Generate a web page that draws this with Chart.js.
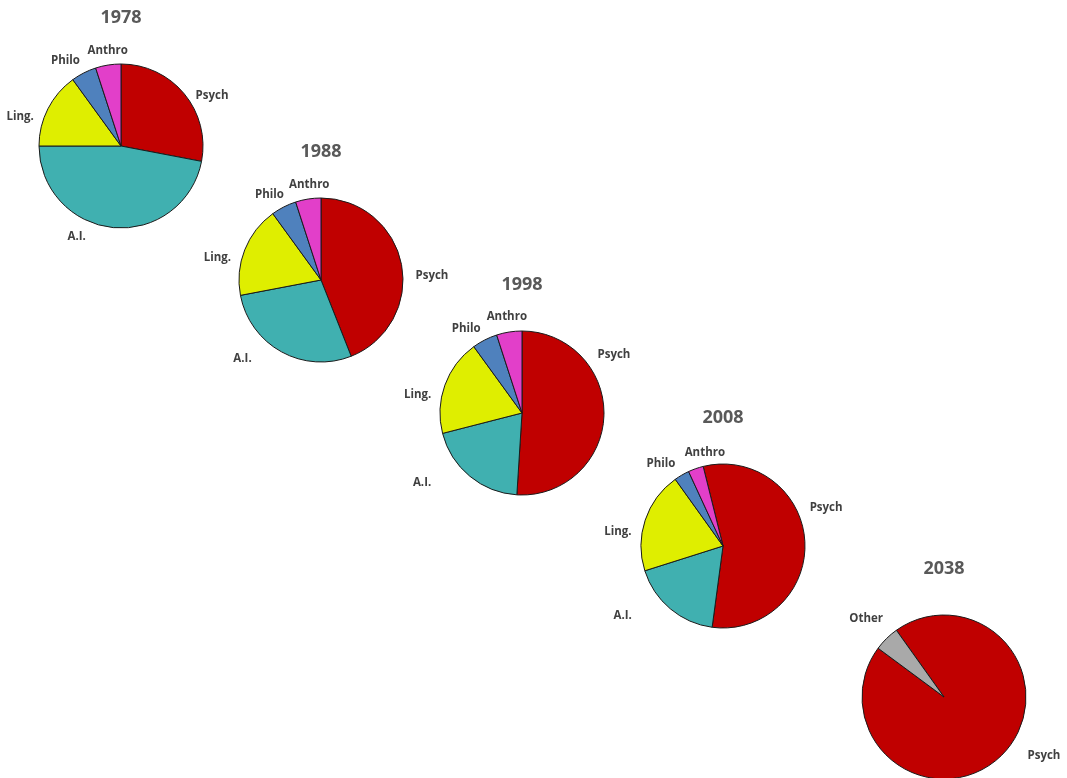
<!DOCTYPE html>
<html>
<head>
<meta charset="utf-8">
<script src="https://cdn.jsdelivr.net/npm/chart.js@4"></script>
<style>
    html, body { margin: 0; padding: 0; background: #fff; width: 1067px; height: 778px; overflow: hidden; }
    .pie { position: absolute; width: 300px; height: 300px; }
</style>
</head>
<body>
<div id="stage"></div>
<script>
// ---------------------------------------------------------------------------
// data
// ---------------------------------------------------------------------------
const years = ['1978', '1988', '1998', '2008', '2038'];

const fields = ['Psych', 'A.I.', 'Ling.', 'Philo', 'Anthro'];
const fields2038 = ['Psych', 'Other'];

const share1978 = [28, 47, 15, 5, 5];
const share1988 = [44, 28, 18, 5, 5];
const share1998 = [51, 20, 19, 5, 5];
const share2008 = [56, 18, 20, 3, 3];
const share2038 = [95, 5];

// ---------------------------------------------------------------------------
// layout / style
// ---------------------------------------------------------------------------
const fieldColors = {
    'Psych': '#c00000',
    'A.I.': '#40b0b0',
    'Ling.': '#dfee00',
    'Philo': '#4f81bd',
    'Anthro': '#e23fc9',
    'Other': '#a9a9a9'
};

// pie centres on the page, start angle, label spots (angle from top in deg, distance from centre)
const pies = [
    { year: years[0], labels: fields, values: share1978, cx: 121, cy: 146, rotation: 0,
      spots: [[61, 104], [206, 101], [286, 105], [327, 102], [352, 96]] },
    { year: years[1], labels: fields, values: share1988, cx: 321, cy: 279.5, rotation: 0,
      spots: [[88, 111], [225, 111], [282, 106], [329, 100], [353, 96]] },
    { year: years[2], labels: fields, values: share1998, cx: 522, cy: 412.5, rotation: 0,
      spots: [[57.5, 109], [235, 122], [280, 106], [326.5, 101], [351, 97]] },
    { year: years[3], labels: fields, values: share2008, cx: 722.5, cy: 545.5, rotation: -14,
      spots: [[69.6, 110], [235.3, 122], [277.8, 106], [323, 103], [349, 95]] },
    { year: years[4], labels: fields2038, values: share2038, cx: 944.3, cy: 696.7, rotation: -35.5,
      spots: [[120.5, 116], [315, 110]] }
];

const SIZE = 300;
const RADIUS = 82.5;

// titles + slice labels, placed around the arc centre
const pieTextPlugin = {
    id: 'pieText',
    afterDraw(chart, args, opts) {
        const arc = chart.getDatasetMeta(0).data[0];
        if (!arc) return;
        const ctx = chart.ctx;
        const cx = arc.x, cy = arc.y;
        ctx.save();
        ctx.textAlign = 'center';
        ctx.textBaseline = 'middle';

        ctx.fillStyle = '#595959';
        ctx.font = 'bold 18px "Open Sans", "Liberation Sans", sans-serif';
        ctx.fillText(opts.title, cx, cy - 128);

        ctx.fillStyle = '#404040';
        ctx.font = 'bold 11.5px "Open Sans", "Liberation Sans", sans-serif';
        chart.data.labels.forEach((lab, i) => {
            const [deg, dist] = opts.spots[i];
            const a = deg * Math.PI / 180;
            ctx.fillText(lab, cx + dist * Math.sin(a), cy - dist * Math.cos(a));
        });
        ctx.restore();
    }
};

const stage = document.getElementById('stage');

pies.forEach(p => {
    const canvas = document.createElement('canvas');
    canvas.className = 'pie';
    canvas.width = SIZE;
    canvas.height = SIZE;
    canvas.style.left = (p.cx - SIZE / 2) + 'px';
    canvas.style.top = (p.cy - SIZE / 2) + 'px';
    stage.appendChild(canvas);

    const pad = SIZE / 2 - RADIUS;

    new Chart(canvas.getContext('2d'), {
        type: 'pie',
        data: {
            labels: p.labels,
            datasets: [{
                data: p.values,
                backgroundColor: p.labels.map(l => fieldColors[l]),
                borderColor: '#1a1a1a',
                borderWidth: 1
            }]
        },
        options: {
            responsive: false,
            animation: false,
            rotation: p.rotation,
            layout: { padding: pad },
            plugins: {
                legend: { display: false },
                tooltip: { enabled: false },
                pieText: { title: p.year, spots: p.spots }
            }
        },
        plugins: [pieTextPlugin]
    });
});
</script>
</body>
</html>
